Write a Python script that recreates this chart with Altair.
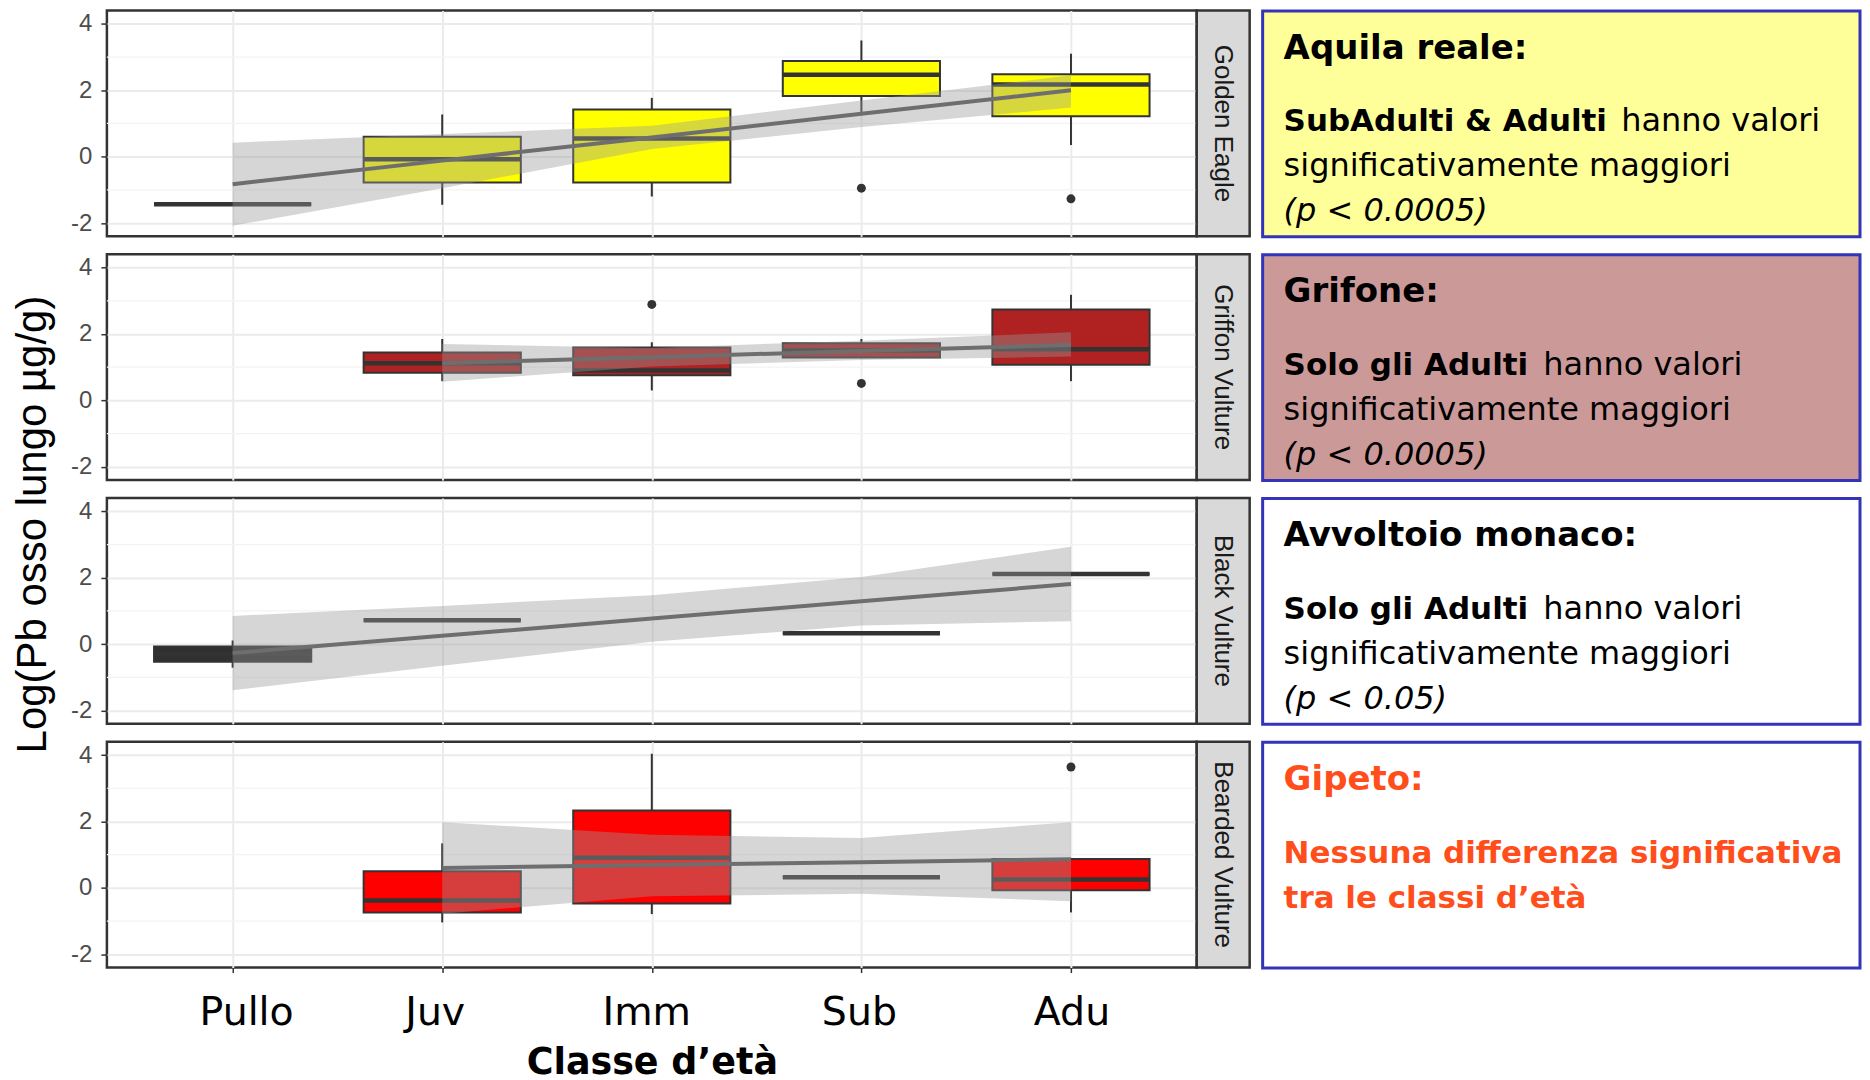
import json
import altair as alt
import pandas as pd

# ---------------- data ----------------
CATEGORIES = ["Pullo", "Juv", "Imm", "Sub", "Adu"]
SPECIES = ["Golden Eagle", "Griffon Vulture", "Black Vulture", "Bearded Vulture"]
Y_TICKS = [-2, 0, 2, 4]
Y_MINOR = [-1, 1, 3]

# Golden Eagle
golden_lower = [-1.43, -1.45, -1.20, 1.35, 0.35]
golden_q1 = [-1.43, -0.78, -0.78, 1.83, 1.22]
golden_median = [-1.43, -0.08, 0.55, 2.47, 2.17]
golden_q3 = [-1.43, 0.60, 1.42, 2.88, 2.48]
golden_upper = [-1.43, 1.27, 1.77, 3.50, 3.10]
golden_outlier_cat = ["Sub", "Adu"]
golden_outlier_val = [-0.95, -1.27]
golden_fit = [-0.83, -0.12, 0.58, 1.29, 2.00]
golden_ci_low = [-2.08, -0.95, 0.23, 0.89, 1.48]
golden_ci_high = [0.42, 0.68, 0.93, 1.69, 2.45]

# Griffon Vulture
griffon_lower = [None, 0.58, 0.30, 1.29, 0.58]
griffon_q1 = [None, 0.83, 0.76, 1.29, 1.07]
griffon_median = [None, 1.12, 0.90, 1.50, 1.54]
griffon_q3 = [None, 1.44, 1.59, 1.72, 2.74]
griffon_upper = [None, 1.85, 1.75, 1.85, 3.18]
griffon_outlier_cat = ["Imm", "Sub"]
griffon_outlier_val = [2.89, 0.51]
griffon_fit = [None, 1.12, 1.30, 1.49, 1.67]
griffon_ci_low = [None, 0.56, 1.02, 1.22, 1.32]
griffon_ci_high = [None, 1.70, 1.58, 1.80, 2.05]

# Black Vulture
black_lower = [-0.71, 0.72, None, 0.33, 2.11]
black_q1 = [-0.53, 0.72, None, 0.33, 2.11]
black_median = [-0.30, 0.72, None, 0.33, 2.11]
black_q3 = [-0.07, 0.72, None, 0.33, 2.11]
black_upper = [0.11, 0.72, None, 0.33, 2.11]
black_outlier_cat = []
black_outlier_val = []
black_fit = [-0.27, 0.25, 0.77, 1.29, 1.81]
black_ci_low = [-1.39, -0.65, 0.07, 0.56, 0.69]
black_ci_high = [0.85, 1.15, 1.47, 2.02, 2.93]

# Bearded Vulture
bearded_lower = [None, -1.04, -0.79, 0.32, -0.74]
bearded_q1 = [None, -0.74, -0.47, 0.32, -0.07]
bearded_median = [None, -0.38, 0.91, 0.32, 0.25]
bearded_q3 = [None, 0.50, 2.33, 0.32, 0.87]
bearded_upper = [None, 1.34, 4.04, 0.32, 0.87]
bearded_outlier_cat = ["Adu"]
bearded_outlier_val = [3.64]
bearded_fit = [None, 0.60, 0.69, 0.77, 0.86]
bearded_ci_low = [None, -0.78, -0.25, -0.18, -0.40]
bearded_ci_high = [None, 1.98, 1.60, 1.50, 1.98]

# annotation texts
BOX_TITLES = ["Aquila reale:", "Grifone:", "Avvoltoio monaco:", "Gipeto:"]
BOX_LEADS = ["SubAdulti & Adulti", "Solo gli Adulti", "Solo gli Adulti",
             "Nessuna differenza significativa"]
BOX_TAILS = ["hanno valori", "hanno valori", "hanno valori", ""]
BOX_SECOND = ["significativamente maggiori", "significativamente maggiori",
              "significativamente maggiori", "tra le classi d\u2019et\u00e0"]
BOX_PVALUES = ["(p < 0.0005)", "(p < 0.0005)", "(p < 0.05)", ""]
Y_TITLE = "Log(Pb osso lungo \u00b5g/g)"
X_TITLE = "Classe d\u2019et\u00e0"

# ---------------- layout / style ----------------
PANEL_W, PANEL_H = 1091, 226
STRIP_W = 53
BOX_W = 612
BOX_HALF = 0.375
X_DOMAIN = [-0.6, 4.6]
LABEL_NUDGE_PX = [14, -7, -5, -2, 1]   # horizontal nudge of the category labels
FILLS = ["#FFFF00", "#B02222", "#303030", "#FF0000"]
BOX_FILLS = ["#FFFF99", "#CC9999", "#FFFFFF", "#FFFFFF"]
BORDER_BLUE = "#3434B8"
ORANGE = "#FF4E1B"
DARK = "#333333"

xs = alt.Scale(domain=X_DOMAIN, nice=False, zero=False)
ys = alt.Scale(domain=[-2.4, 4.4], nice=False, zero=False)
PX_PER_UNIT = PANEL_W / (X_DOMAIN[1] - X_DOMAIN[0])


def make_panel(k, lower, q1, med, q3, upper, out_cat, out_val, fit, lo, hi):
    show_x = (k == len(SPECIES) - 1)
    rows = []
    for i, c in enumerate(CATEGORIES):
        if q1[i] is None:
            continue
        rows.append(dict(idx=i, cat=c, lower=lower[i], q1=q1[i], median=med[i],
                         q3=q3[i], upper=upper[i]))
    box = pd.DataFrame(rows)
    box["x_lo"] = box["idx"] - BOX_HALF
    box["x_hi"] = box["idx"] + BOX_HALF

    fit_df = pd.DataFrame([dict(idx=i, fit=fit[i], lo=lo[i], hi=hi[i])
                           for i in range(len(CATEGORIES)) if fit[i] is not None])
    out_df = pd.DataFrame(dict(idx=[CATEGORIES.index(c) for c in out_cat],
                               value=out_val))
    minor_df = pd.DataFrame(dict(v=Y_MINOR))

    xa = dict(values=list(range(len(CATEGORIES))), grid=True, gridColor="#EBEBEB",
              gridWidth=2, domain=False, labels=False, ticks=show_x)
    if show_x:
        xa.update(tickSize=5, tickColor=DARK, tickWidth=1.5, title=X_TITLE,
                  titleFont="DejaVu Sans", titleFontSize=36.5, titleFontWeight="bold",
                  titleColor="black", titleBaseline="alphabetic", titleY=106)
    else:
        xa.update(title=None)
    x_axis = alt.Axis(**xa)

    ya = dict(values=Y_TICKS, grid=True, gridColor="#EBEBEB", gridWidth=2,
              domain=False, tickSize=6, tickColor=DARK, tickWidth=1.5,
              labelExpr="'' + datum.value",
              labelFont="Liberation Sans", labelFontSize=24, labelColor="#4D4D4D",
              labelPadding=9)
    if k == 1:
        ya.update(title=Y_TITLE, titleFont="Liberation Sans", titleFontSize=42,
                  titleFontWeight="normal", titleColor="black", titleAngle=270,
                  titleAlign="center", titleBaseline="middle", titleX=-74, titleY=270)
    else:
        ya.update(title=None)
    y_axis = alt.Axis(**ya)

    def X(f):
        return alt.X(f, type="quantitative", scale=xs, axis=x_axis)

    def Y(f):
        return alt.Y(f, type="quantitative", scale=ys, axis=y_axis)

    layers = [
        alt.Chart(minor_df).mark_rule(color="#F3F3F3", strokeWidth=1.2).encode(y=Y("v")),
        alt.Chart(box).mark_rule(color=DARK, strokeWidth=2).encode(
            x=X("idx"), y=Y("q3"), y2="upper"),
        alt.Chart(box).mark_rule(color=DARK, strokeWidth=2).encode(
            x=X("idx"), y=Y("lower"), y2="q1"),
        alt.Chart(box).mark_rect(fill=FILLS[k], stroke=DARK, strokeWidth=2).encode(
            x=X("x_lo"), x2="x_hi", y=Y("q1"), y2="q3"),
        alt.Chart(box).mark_rule(color=DARK, strokeWidth=4.5).encode(
            x=X("x_lo"), x2="x_hi", y=Y("median")),
    ]
    if len(out_df):
        layers.append(alt.Chart(out_df).mark_circle(size=80, color=DARK, opacity=1).encode(
            x=X("idx"), y=Y("value")))
    layers += [
        alt.Chart(fit_df).mark_area(color="#999999", opacity=0.4).encode(
            x=X("idx"), y=Y("lo"), y2="hi"),
        alt.Chart(fit_df).mark_line(color="#6E6E6E", strokeWidth=4).encode(
            x=X("idx"), y=Y("fit")),
    ]
    if show_x:
        lab = pd.DataFrame(dict(cat=CATEGORIES,
                                xpos=[i + LABEL_NUDGE_PX[i] / PX_PER_UNIT
                                      for i in range(len(CATEGORIES))]))
        layers.append(alt.Chart(lab).mark_text(
            font="DejaVu Sans", fontSize=39.5, color="black", align="center",
            baseline="alphabetic").encode(
            x=X("xpos"), y=alt.value(PANEL_H + 57.5), text="cat:N"))
    return alt.layer(*layers).properties(
        width=PANEL_W, height=PANEL_H,
        view=alt.ViewBackground(fill="white", stroke=DARK, strokeWidth=2.5))


def make_strip(k):
    return alt.Chart(pd.DataFrame(dict(label=[SPECIES[k]]))).mark_text(
        angle=90, font="Liberation Sans", fontSize=26, color="#1A1A1A",
        align="center", baseline="middle").encode(
        text="label:N", x=alt.value(STRIP_W / 2), y=alt.value(PANEL_H / 2)).properties(
        width=STRIP_W, height=PANEL_H,
        view=alt.ViewBackground(fill="#D9D9D9", stroke=DARK, strokeWidth=2.5))


def text_layer(txt, x, y, size, color, weight="normal", style="normal"):
    return alt.Chart(pd.DataFrame(dict(t=[txt]))).mark_text(
        align="left", baseline="alphabetic", font="DejaVu Sans", fontSize=size,
        fontWeight=weight, fontStyle=style, color=color).encode(
        text="t:N", x=alt.value(x), y=alt.value(y))


def make_box(k):
    orange = (k == 3)
    col = ORANGE if orange else "black"
    x0 = 34
    layers = [
        alt.Chart(pd.DataFrame(dict(t=[BOX_TITLES[k]]))).mark_rect(
            fill=BOX_FILLS[k], stroke=BORDER_BLUE, strokeWidth=3).encode(
            x=alt.value(13), x2=alt.value(BOX_W - 1), y=alt.value(0.5),
            y2=alt.value(PANEL_H + 0.5)),
        text_layer(BOX_TITLES[k], x0, 48, 34, col, weight="bold"),
        text_layer(BOX_LEADS[k], x0, 121, 31, col, weight="bold"),
    ]
    tail_dx = [338, 260, 260, 0]
    if BOX_TAILS[k]:
        layers.append(text_layer(BOX_TAILS[k], x0 + tail_dx[k], 121, 32, col))
    if orange:
        layers.append(text_layer(BOX_SECOND[k], x0, 166, 31, col, weight="bold"))
    else:
        layers.append(text_layer(BOX_SECOND[k], x0, 166, 32, col))
    if BOX_PVALUES[k]:
        layers.append(text_layer(BOX_PVALUES[k], x0, 211, 32, col, style="italic"))
    return alt.layer(*layers).properties(
        width=BOX_W, height=PANEL_H,
        view=alt.ViewBackground(fill="transparent", stroke="transparent"))


panel_args = [
    (golden_lower, golden_q1, golden_median, golden_q3, golden_upper,
     golden_outlier_cat, golden_outlier_val, golden_fit, golden_ci_low, golden_ci_high),
    (griffon_lower, griffon_q1, griffon_median, griffon_q3, griffon_upper,
     griffon_outlier_cat, griffon_outlier_val, griffon_fit, griffon_ci_low, griffon_ci_high),
    (black_lower, black_q1, black_median, black_q3, black_upper,
     black_outlier_cat, black_outlier_val, black_fit, black_ci_low, black_ci_high),
    (bearded_lower, bearded_q1, bearded_median, bearded_q3, bearded_upper,
     bearded_outlier_cat, bearded_outlier_val, bearded_fit, bearded_ci_low, bearded_ci_high),
]

cells = []
for k, args in enumerate(panel_args):
    cells += [make_panel(k, *args), make_strip(k), make_box(k)]

chart = alt.concat(*cells, columns=3, spacing={"row": 18, "column": 0},
                   bounds="flush").properties(
    padding={"left": 2, "top": 0, "right": 0, "bottom": 0}
).configure(font="Liberation Sans", background="white")

chart.save("out.html", embed_options={"renderer": "svg", "actions": False})
